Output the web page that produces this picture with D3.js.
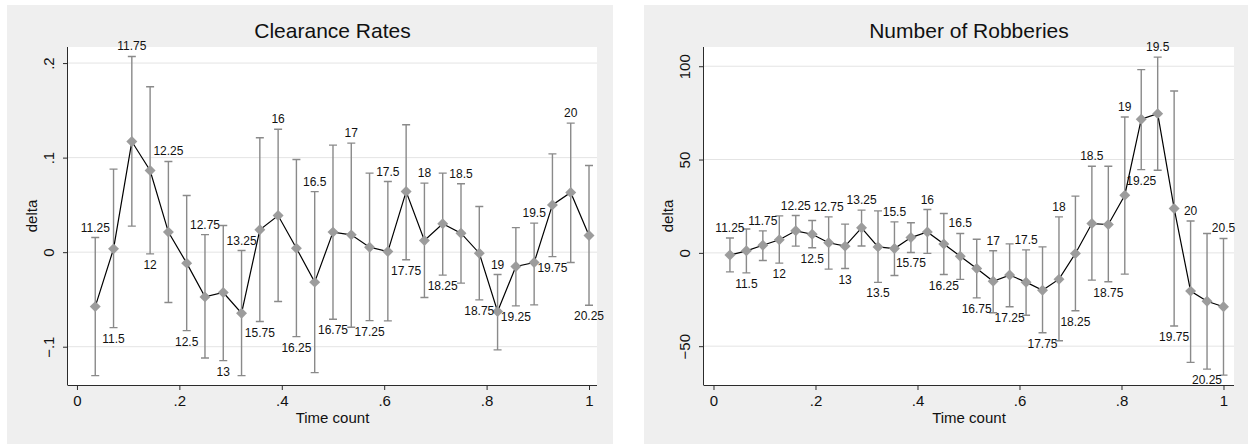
<!DOCTYPE html>
<html>
<head>
<meta charset="utf-8">
<script src="https://cdn.jsdelivr.net/npm/d3@7"></script>
<style>
  html, body { margin: 0; padding: 0; background: #ffffff; }
  svg { display: block; font-family: "Liberation Sans", Arial, Helvetica, sans-serif; }
</style>
</head>
<body>
<svg id="chart" width="1255" height="444"></svg>
<script>
// ---- Clearance rates: quarter labels, point estimates and confidence limits ----
const clearLabels = ["11.25","11.5","11.75","12","12.25","12.5","12.75","13","13.25",
  "15.75","16","16.25","16.5","16.75","17","17.25","17.5","17.75","18","18.25",
  "18.5","18.75","19","19.25","19.5","19.75","20","20.25"];
const clearDelta = [-0.0576, 0.0035, 0.117, 0.0864, 0.0212, -0.0116, -0.0473, -0.0427, -0.0646,
  0.0236, 0.0387, 0.0042, -0.0317, 0.0212, 0.0183, 0.0053, 0.0006, 0.0641, 0.0123, 0.030,
  0.0201, -0.0011, -0.0628, -0.0152, -0.011, 0.050, 0.0631, 0.0176];
const clearLower = [-0.1306, -0.0798, 0.0275, -0.0018, -0.0533, -0.083, -0.112, -0.1147, -0.1306,
  -0.0734, -0.0522, -0.0893, -0.1274, -0.0709, -0.0794, -0.0724, -0.0727, -0.0081, -0.048, -0.0243,
  -0.0328, -0.0505, -0.1034, -0.0568, -0.0558, -0.0047, -0.011, -0.0561];
const clearUpper = [0.0155, 0.0878, 0.207, 0.175, 0.0959, 0.060, 0.0186, 0.0282, 0.0017,
  0.121, 0.130, 0.098, 0.064, 0.1132, 0.1153, 0.0836, 0.0747, 0.1347, 0.073, 0.0836,
  0.0723, 0.0483, -0.0237, 0.026, 0.0307, 0.104, 0.1365, 0.0916];

// ---- Number of robberies ----
const robLabels = ["11.25","11.5","11.75","12","12.25","12.5","12.75","13","13.25","13.5",
  "15.5","15.75","16","16.25","16.5","16.75","17","17.25","17.5","17.75","18","18.25",
  "18.5","18.75","19","19.25","19.5","19.75","20","20.25","20.5"];
const robDelta = [-1.2, 1.1, 4.1, 7.0, 11.8, 10.0, 5.4, 3.6, 13.4, 3.2,
  2.3, 8.2, 11.2, 4.7, -1.8, -8.4, -15.2, -11.9, -15.7, -20.0, -14.1, -0.3,
  15.7, 15.2, 30.9, 71.6, 74.6, 23.8, -20.5, -25.9, -28.9];
const robLower = [-10.2, -10.7, -4.1, -5.5, 3.6, 2.7, -8.7, -8.4, 3.7, -15.8,
  -12.1, 0.2, -0.3, -11.6, -14.2, -24.1, -32.1, -28.9, -33.4, -42.8, -47.1, -31.0,
  -14.6, -15.5, -11.4, 44.6, 44.3, -39.2, -58.7, -62.3, -65.5];
const robUpper = [8.0, 12.8, 11.8, 19.8, 20.0, 17.3, 19.3, 15.4, 22.9, 22.5,
  16.6, 16.1, 23.2, 21.1, 10.4, 7.3, 1.1, 4.8, 1.6, 3.2, 19.3, 30.4,
  46.4, 46.4, 72.8, 98.2, 104.9, 86.7, 17.1, 10.4, 7.7];

// ---- Axis ticks ----
const xTicks = [0, 0.2, 0.4, 0.6, 0.8, 1];
const xTickLabels = ["0", ".2", ".4", ".6", ".8", "1"];
const clearYTicks = [-0.1, 0, 0.1, 0.2];
const clearYTickLabels = ["\u2212.1", "0", ".1", ".2"];
const robYTicks = [-50, 0, 50, 100];
const robYTickLabels = ["\u221250", "0", "50", "100"];

const svg = d3.select("#chart");

const COLORS = {
  panel: "#efefef",
  plot: "#ffffff",
  grid: "#e4e4e4",
  axis: "#2b2b2b",
  bar: "#8a8a8a",
  marker: "#9c9c9c",
  line: "#000000",
  text: "#111111"
};

function drawPanel(cfg) {
  const g = svg.append("g");

  // outer panel background
  g.append("rect")
    .attr("x", cfg.panel.x).attr("y", cfg.panel.y)
    .attr("width", cfg.panel.w).attr("height", cfg.panel.h)
    .attr("fill", COLORS.panel);

  // plot region
  const p = cfg.plot;
  g.append("rect")
    .attr("x", p.x0).attr("y", p.y0)
    .attr("width", p.x1 - p.x0).attr("height", p.y1 - p.y0)
    .attr("fill", COLORS.plot);

  const x = d3.scaleLinear().domain(cfg.xDomain).range([p.x0, p.x1]);
  const y = d3.scaleLinear().domain(cfg.yDomain).range([p.y1, p.y0]);

  // horizontal gridlines
  g.append("g").selectAll("line").data(cfg.yTicks).join("line")
    .attr("x1", p.x0).attr("x2", p.x1)
    .attr("y1", d => y(d)).attr("y2", d => y(d))
    .attr("stroke", COLORS.grid).attr("stroke-width", 1);

  // y axis, tick labels read bottom-to-top
  const yAxis = d3.axisLeft(y)
    .tickValues(cfg.yTicks)
    .tickSize(5)
    .tickPadding(0)
    .tickFormat((d, i) => cfg.yTickLabels[i]);
  const ya = g.append("g").attr("transform", `translate(${p.x0},0)`).call(yAxis);
  ya.select(".domain").attr("stroke", COLORS.axis).attr("d", `M-0.5,${p.y1}V${p.y0}`);
  ya.selectAll(".tick line").attr("stroke", COLORS.axis);
  ya.selectAll(".tick text")
    .attr("fill", COLORS.text)
    .attr("font-size", 15)
    .attr("text-anchor", "middle")
    .attr("transform", "rotate(-90)")
    .attr("x", 0).attr("dy", 0)
    .attr("y", -14);

  // x axis
  const xAxis = d3.axisBottom(x)
    .tickValues(xTicks)
    .tickSize(5)
    .tickPadding(0)
    .tickFormat((d, i) => xTickLabels[i]);
  const xa = g.append("g").attr("transform", `translate(0,${p.y1})`).call(xAxis);
  xa.select(".domain").attr("stroke", COLORS.axis).attr("d", `M${p.x0 - 0.5},0.5H${p.x1}`);
  xa.selectAll(".tick line").attr("stroke", COLORS.axis);
  xa.selectAll(".tick text")
    .attr("fill", COLORS.text)
    .attr("font-size", 15)
    .attr("dy", 0)
    .attr("y", 20.5);

  [ya, xa].forEach(a => a.attr("font-family", null));

  // titles
  const cx = (p.x0 + p.x1) / 2;
  g.append("text")
    .attr("x", cx).attr("y", 38)
    .attr("text-anchor", "middle")
    .attr("font-size", 21)
    .attr("fill", COLORS.text)
    .text(cfg.title);
  g.append("text")
    .attr("x", cx).attr("y", 423)
    .attr("text-anchor", "middle")
    .attr("font-size", 15)
    .attr("fill", COLORS.text)
    .text("Time count");
  g.append("text")
    .attr("transform", `translate(${p.x0 - 31},${(p.y0 + p.y1) / 2}) rotate(-90)`)
    .attr("text-anchor", "middle")
    .attr("font-size", 15)
    .attr("fill", COLORS.text)
    .text("delta");

  const n = cfg.labels.length;
  const rows = cfg.labels.map((lab, i) => ({
    label: lab,
    t: (i + 1) / n,               // time count = rank / number of quarters
    v: cfg.values[i],
    lo: cfg.lower[i],
    hi: cfg.upper[i],
    above: i % 2 === 0
  }));

  // confidence intervals with caps
  const bars = g.append("g").attr("stroke", COLORS.bar).attr("stroke-width", 1.4).attr("fill", "none");
  bars.selectAll("path").data(rows).join("path")
    .attr("d", d => {
      const xx = x(d.t), yl = y(d.lo), yh = y(d.hi), c = 4;
      return `M${xx},${yl}V${yh}M${xx - c},${yh}H${xx + c}M${xx - c},${yl}H${xx + c}`;
    });

  // connecting line
  g.append("path")
    .datum(rows)
    .attr("fill", "none")
    .attr("stroke", COLORS.line)
    .attr("stroke-width", 1.2)
    .attr("d", d3.line().x(d => x(d.t)).y(d => y(d.v)));

  // diamond markers (squares turned 45 degrees)
  g.append("g").selectAll("path").data(rows).join("path")
    .attr("transform", d => `translate(${x(d.t)},${y(d.v)}) rotate(45)`)
    .attr("d", d3.symbol().type(d3.symbolSquare).size(60))
    .attr("fill", COLORS.marker);

  // quarter labels, alternating above the upper limit and below the lower limit
  g.append("g").selectAll("text").data(rows).join("text")
    .attr("x", d => x(d.t))
    .attr("y", d => d.above ? y(d.hi) - 6 : y(d.lo) + 15)
    .attr("text-anchor", "middle")
    .attr("font-size", 12)
    .attr("fill", COLORS.text)
    .text(d => d.label);
}

drawPanel({
  title: "Clearance Rates",
  panel: { x: 7, y: 5, w: 606, h: 439 },
  plot: { x0: 68, x1: 597, y0: 47, y1: 385 },
  xDomain: [-0.0175, 1.0156],
  yDomain: [-0.1405, 0.217],
  yTicks: clearYTicks,
  yTickLabels: clearYTickLabels,
  labels: clearLabels,
  values: clearDelta,
  lower: clearLower,
  upper: clearUpper
});

drawPanel({
  title: "Number of Robberies",
  panel: { x: 644, y: 5, w: 604, h: 439 },
  plot: { x0: 704, x1: 1234, y0: 47, y1: 385 },
  xDomain: [-0.0186, 1.0206],
  yDomain: [-70.8, 110.3],
  yTicks: robYTicks,
  yTickLabels: robYTickLabels,
  labels: robLabels,
  values: robDelta,
  lower: robLower,
  upper: robUpper
});
</script>
</body>
</html>
